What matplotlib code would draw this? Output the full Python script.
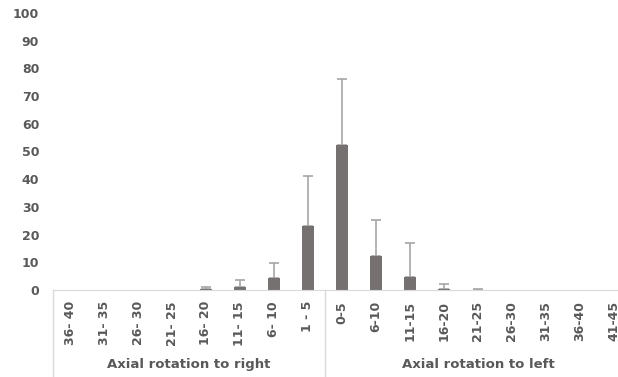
import matplotlib.pyplot as plt
import numpy as np

# categories (degrees), right group then left group
cats = ["36- 40", "31- 35", "26- 30", "21- 25", "16- 20", "11- 15", "6- 10", "1 - 5",
        "0-5", "6-10", "11-15", "16-20", "21-25", "26-30", "31-35", "36-40", "41-45"]
means = [0, 0, 0, 0, 0.2, 1.0, 4.2, 23.0,
         52.3, 12.3, 4.8, 0.5, 0.1, 0, 0, 0, 0]
sds = [0, 0, 0, 0, 0.9, 2.5, 5.5, 18.3,
       23.9, 12.9, 12.0, 1.5, 0.4, 0, 0, 0, 0]
groups = ["Axial rotation to right", "Axial rotation to left"]

txt = "#595959"
fig = plt.figure(figsize=(6.18, 3.77), dpi=100)
ax = fig.add_axes([0.0858, 0.2308, 0.9142, 0.7347])

x = np.arange(len(cats))
ax.bar(x, means, width=0.36, color="#767171", zorder=2)
err_x = [i for i in x if sds[i] > 0]
ax.errorbar(err_x, [means[i] for i in err_x], yerr=[[0] * len(err_x), [sds[i] for i in err_x]],
            fmt="none", ecolor="#A6A6A6", elinewidth=1.2, capsize=3.5, capthick=1.2, zorder=1)

ax.set_ylim(0, 100)
ax.set_xlim(-0.5, 16.12)
ax.set_yticks(range(0, 101, 10))
ax.set_xticks(x)
ax.set_xticklabels(cats, rotation=90, fontsize=9, color=txt, fontweight="bold")
for lab in ax.get_yticklabels():
    lab.set_fontsize(9)
    lab.set_color(txt)
    lab.set_fontweight("bold")
ax.tick_params(axis="y", length=0, pad=10)
ax.tick_params(axis="x", length=0, pad=8)
for s in ["top", "right", "left"]:
    ax.spines[s].set_visible(False)
ax.spines["bottom"].set_color("#D9D9D9")

# group separators and labels below the axis
tr = ax.get_xaxis_transform()
for xv in [-0.5, 7.5]:
    ax.plot([xv, xv], [0, -0.33], transform=tr, color="#D9D9D9", lw=1, clip_on=False)
ax.text(3.5, -0.27, groups[0], transform=tr, ha="center", va="center",
        fontsize=9.5, color=txt, fontweight="bold")
ax.text(12.0, -0.27, groups[1], transform=tr, ha="center", va="center",
        fontsize=9.5, color=txt, fontweight="bold")

fig.savefig("out.png", dpi=100)
